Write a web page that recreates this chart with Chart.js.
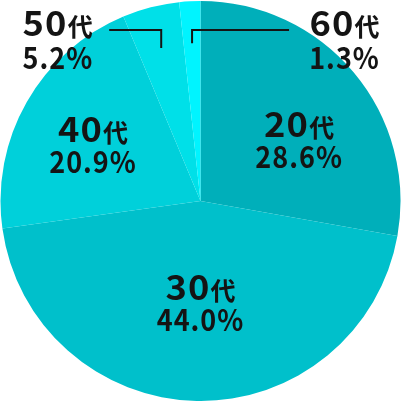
<!DOCTYPE html>
<html>
<head>
<meta charset="utf-8">
<script src="https://cdn.jsdelivr.net/npm/chart.js@4"></script>
<style>
  html, body { margin: 0; padding: 0; background: #fff; }
  #wrap { width: 401px; height: 401px; }
</style>
</head>
<body>
<div id="wrap"><canvas id="pie-chart"></canvas></div>
<script>
const ageGroups = ["20", "30", "40", "50", "60"];
const ageSuffix = "代";
// slice sizes as drawn in the picture
const sliceValues = [27.8, 45.0, 20.9, 4.6, 1.7];
// percentages printed on the labels
const shareLabels = ["28.6%", "44.0%", "20.9%", "5.2%", "1.3%"];
const sliceColors = ["#00afba", "#00c0cb", "#00d0da", "#00e0e8", "#00f4ff"];

// label placement per slice: inside = polar offset from the pie centre (deg, fraction of radius)
// outside = leader line to the top corners
const labelPlace = [
    { type: "inside", angle: -26.3, radius: 0.55 },
    { type: "inside", angle: 90, radius: 0.57 },
    { type: "inside", angle: 202.1, radius: 0.58 },
    { type: "outside", side: "left" },
    { type: "outside", side: "right" }
];

const FONT = '"Noto Sans CJK JP", "Noto Sans", sans-serif';

function textWidth(ctx, text, font, spacing, sx) {
    ctx.font = font;
    ctx.letterSpacing = spacing;
    return ctx.measureText(text).width * sx;
}

function fillScaled(ctx, text, x, y, font, spacing, sx, sy) {
    ctx.save();
    ctx.font = font;
    ctx.letterSpacing = spacing;
    ctx.textAlign = "left";
    ctx.translate(x, y);
    ctx.scale(sx, sy);
    ctx.fillText(text, 0, 0);
    ctx.restore();
}

function drawName(ctx, num, x, y, align) {
    const numFont = "bold 31px " + FONT;
    const sufFont = "bold 25px " + FONT;
    const w1 = textWidth(ctx, num, numFont, "1px", 1.17);
    const w2 = textWidth(ctx, ageSuffix, sufFont, "0px", 1);
    const total = w1 + w2;
    let left = x - total / 2;
    if (align === "left") left = x;
    if (align === "right") left = x - total;
    fillScaled(ctx, num, left, y, numFont, "1px", 1.17, 1.1);
    fillScaled(ctx, ageSuffix, left + w1, y, sufFont, "0px", 1, 1.02);
}

function drawPct(ctx, text, x, y, align) {
    const font = "bold 27px " + FONT;
    const w = textWidth(ctx, text, font, "1px", 1.0);
    let left = x - w / 2;
    if (align === "left") left = x;
    if (align === "right") left = x - w;
    fillScaled(ctx, text, left, y, font, "1px", 1.0, 1.1);
}

const labelPlugin = {
    id: "sliceLabels",
    afterDatasetsDraw(chart) {
        const ctx = chart.ctx;
        const arcs = chart.getDatasetMeta(0).data;
        ctx.save();
        ctx.fillStyle = "#141414";
        ctx.textBaseline = "alphabetic";
        arcs.forEach(function (arc, i) {
            const p = arc.getProps(["x", "y", "startAngle", "endAngle", "outerRadius"], true);
            const R = p.outerRadius;
            const place = labelPlace[i];
            if (place.type === "outside") {
                const mid = (p.startAngle + p.endAngle) / 2;
                const sx = p.x + Math.cos(mid) * R * 0.79;
                const sy = p.y + Math.sin(mid) * R * 0.79;
                const ly = p.y - R * 0.855;
                const left = place.side === "left";
                const ex = left ? sx - 52 : sx + 97;
                ctx.strokeStyle = "#141414";
                ctx.lineWidth = 2;
                ctx.beginPath();
                ctx.moveTo(sx, sy);
                ctx.lineTo(sx, ly);
                ctx.lineTo(ex, ly);
                ctx.stroke();
                if (left) {
                    drawName(ctx, ageGroups[i], p.x - R * 0.89, ly + 6, "left");
                    drawPct(ctx, shareLabels[i], p.x - R * 0.89, ly + 39, "left");
                } else {
                    drawName(ctx, ageGroups[i], p.x + R * 0.72, ly + 6, "center");
                    drawPct(ctx, shareLabels[i], p.x + R * 0.72, ly + 39, "center");
                }
            } else {
                const a = place.angle * Math.PI / 180;
                const cx = p.x + Math.cos(a) * R * place.radius;
                const cy = p.y + Math.sin(a) * R * place.radius;
                drawName(ctx, ageGroups[i], cx, cy - 15, "center");
                drawPct(ctx, shareLabels[i], cx, cy + 16, "center");
            }
        });
        ctx.restore();
    }
};

const ctx = document.getElementById("pie-chart").getContext("2d");
const pieChart = new Chart(ctx, {
    type: "pie",
    data: {
        labels: ageGroups.map(function (a) { return a + ageSuffix; }),
        datasets: [{
            data: sliceValues,
            backgroundColor: sliceColors,
            borderWidth: 0
        }]
    },
    options: {
        responsive: true,
        maintainAspectRatio: false,
        animation: false,
        layout: { padding: { top: 1 } },
        plugins: {
            legend: { display: false },
            tooltip: { enabled: false }
        }
    },
    plugins: [labelPlugin]
});
</script>
</body>
</html>
